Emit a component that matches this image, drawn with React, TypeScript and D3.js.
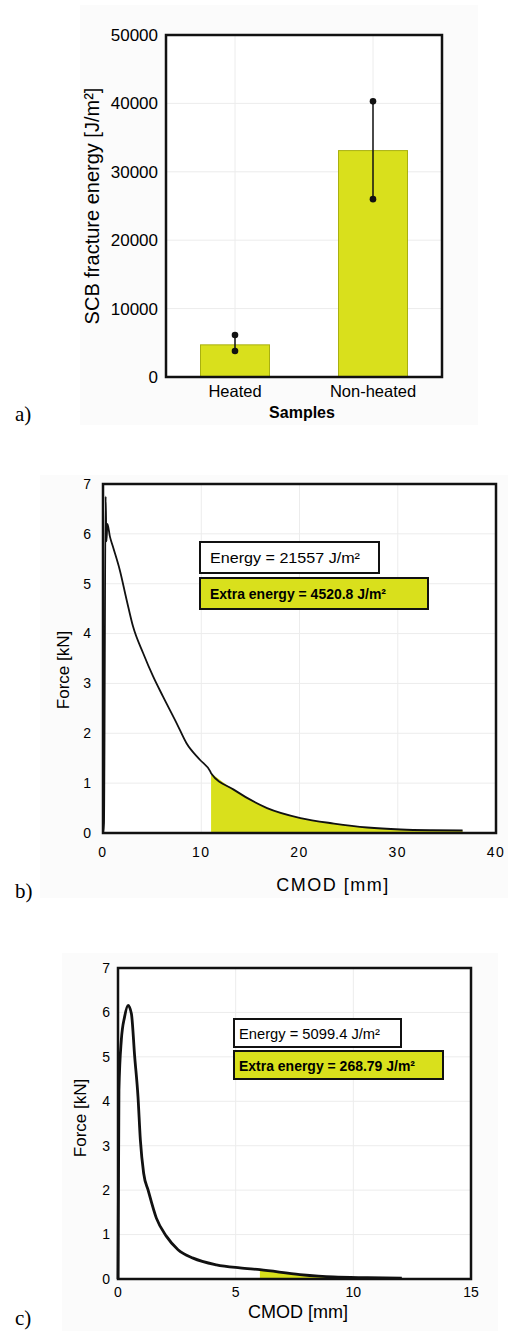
import React from 'react';
import * as d3 from 'd3';

// panel a: SCB fracture energy
const samples = ['Heated', 'Non-heated'];
const energyMean = [4700, 33100];
const energyHigh = [6150, 40300];
const energyLow = [3800, 26000];
const energyTicks = [0, 10000, 20000, 30000, 40000, 50000];

// panel b: heated sample, force vs CMOD
const cmodB = [0, 0.1, 0.27, 0.35, 0.45, 0.7, 1.0, 1.7, 2.4, 3.06, 4.08, 5.1, 6.1, 7.5, 8.5, 9.86, 10.9, 11.0, 13.3, 16.7, 20.1, 23.5, 26.9, 30.3, 33.5, 36.6];
const forceB = [0, 0.2, 6.75, 5.85, 6.2, 5.95, 5.75, 5.28, 4.68, 4.14, 3.61, 3.14, 2.74, 2.2, 1.8, 1.47, 1.24, 1.2, 0.87, 0.5, 0.3, 0.19, 0.11, 0.07, 0.055, 0.05];
const extraStartB = 11.0;
const xTicksB = [0, 10, 20, 30, 40];
const yTicks = [0, 1, 2, 3, 4, 5, 6, 7];

// panel c: non-heated sample
const cmodC = [0, 0.04, 0.14, 0.28, 0.43, 0.57, 0.71, 0.85, 0.95, 1.09, 1.28, 1.63, 2.06, 2.55, 3.19, 4.18, 5.18, 6.03, 7.73, 9.15, 10.6, 12.06];
const forceC = [0, 4.25, 5.37, 5.9, 6.16, 5.97, 5.0, 4.1, 3.13, 2.38, 2.0, 1.37, 0.96, 0.66, 0.47, 0.32, 0.25, 0.21, 0.1, 0.045, 0.03, 0.02];
const extraStartC = 6.0;
const xTicksC = [0, 5, 10, 15];

const YELLOW = '#d9e01c';
const SANS = 'Arial, "Liberation Sans", Helvetica, sans-serif';
const SERIF = '"Times New Roman", "Liberation Serif", serif';

function CurvePanel(props: any) {
  const { xs, ys, xTicks, xMax, extraStart, box, top, left, right, bottom, lineW, labels } = props;
  const x = d3.scaleLinear().domain([0, xMax]).range([left, right]);
  const y = d3.scaleLinear().domain([0, 7]).range([bottom, top]);
  const pts = xs.map((v: number, i: number) => [v, ys[i]] as [number, number]);
  const line = d3.line<[number, number]>().x(d => x(d[0])).y(d => y(d[1])).curve(d3.curveMonotoneX);
  // shaded extra energy part
  const tail = pts.filter((p: [number, number]) => p[0] >= extraStart);
  const area = d3.area<[number, number]>().x(d => x(d[0])).y0(y(0)).y1(d => y(d[1])).curve(d3.curveMonotoneX);

  return (
    <g>
      <rect x={labels.bgX} y={labels.bgY} width={labels.bgW} height={labels.bgH} fill="#fbfbfb" />
      <rect x={left} y={top} width={right - left} height={bottom - top} fill="#fff" />
      {xTicks.slice(1, -1).map((t: number) => (
        <line key={'gx' + t} x1={x(t)} x2={x(t)} y1={top} y2={bottom} stroke="#ececec" />
      ))}
      {yTicks.slice(1, -1).map(t => (
        <line key={'gy' + t} x1={left} x2={right} y1={y(t)} y2={y(t)} stroke="#ececec" />
      ))}
      <path d={area(tail) || ''} fill={YELLOW} />
      <path d={line(pts) || ''} fill="none" stroke="#111" strokeWidth={lineW} strokeLinejoin="round" />
      <rect x={left} y={top} width={right - left} height={bottom - top} fill="none" stroke="#111" strokeWidth={2.5} />
      {yTicks.map(t => (
        <text key={'ty' + t} x={left - labels.yTickGap} y={y(t)} dy="0.35em" textAnchor="end" fontSize={14} fontFamily={SANS}>{t}</text>
      ))}
      {xTicks.map((t: number) => (
        <text key={'tx' + t} x={x(t)} y={labels.xTickY} dy="0.35em" textAnchor="middle" fontSize={14} fontFamily={SANS} letterSpacing={labels.spacing}>{t}</text>
      ))}
      <text x={labels.xTitleX} y={labels.xTitleY} textAnchor="middle" fontSize={18} fontFamily={SANS} letterSpacing={labels.spacing}>{labels.xTitle}</text>
      <text transform={`translate(${labels.yTitleX},${labels.yTitleY}) rotate(-90)`} textAnchor="middle" fontSize={17} fontFamily={SANS}>Force [kN]</text>
      <rect x={box.x} y={box.y1} width={box.w1} height={box.h} fill="#fff" stroke="#111" strokeWidth={2} />
      <text x={box.x + box.pad} y={box.y1 + box.h / 2} dy="0.38em" fontSize={15} fontWeight={box.energyWeight} fontFamily={SANS} textLength={box.energyLen} lengthAdjust="spacingAndGlyphs">
        {box.energy}
      </text>
      <rect x={box.x} y={box.y2} width={box.w2} height={box.h} fill={YELLOW} stroke="#111" strokeWidth={2} />
      <text x={box.x + box.pad} y={box.y2 + box.h / 2} dy="0.38em" fontSize={15} fontWeight="bold" fontFamily={SANS} textLength={box.extraLen} lengthAdjust="spacingAndGlyphs">
        {box.extra}
      </text>
      <text x={15} y={labels.tagY} fontSize={21} fontFamily={SERIF}>{labels.tag}</text>
    </g>
  );
}

function BarPanel() {
  const left = 166, right = 442, top = 35, bottom = 377;
  const x = d3.scaleBand().domain(samples).range([left, right]).paddingInner(0.5).paddingOuter(0.25);
  const y = d3.scaleLinear().domain([0, 50000]).range([bottom, top]);
  return (
    <g>
      <rect x={80} y={5} width={398} height={420} fill="#fbfbfb" />
      <rect x={left} y={top} width={right - left} height={bottom - top} fill="#fff" />
      {energyTicks.slice(1, -1).map(t => (
        <line key={'g' + t} x1={left} x2={right} y1={y(t)} y2={y(t)} stroke="#ececec" />
      ))}
      {samples.map(s => (
        <line key={'gv' + s} x1={x(s)! + x.bandwidth() / 2} x2={x(s)! + x.bandwidth() / 2} y1={top} y2={bottom} stroke="#ececec" />
      ))}
      {samples.map((s, i) => (
        <rect key={s} x={x(s)} y={y(energyMean[i])} width={x.bandwidth()} height={bottom - y(energyMean[i])} fill={YELLOW} stroke="#a9b010" strokeWidth={1} />
      ))}
      {samples.map((s, i) => {
        const cx = x(s)! + x.bandwidth() / 2;
        return (
          <g key={'e' + s}>
            <line x1={cx} x2={cx} y1={y(energyHigh[i])} y2={y(energyLow[i])} stroke="#111" strokeWidth={1.5} />
            <circle cx={cx} cy={y(energyHigh[i])} r={3.3} fill="#111" />
            <circle cx={cx} cy={y(energyLow[i])} r={3.3} fill="#111" />
          </g>
        );
      })}
      <rect x={left} y={top} width={right - left} height={bottom - top} fill="none" stroke="#111" strokeWidth={2.5} />
      {energyTicks.map(t => (
        <text key={'t' + t} x={left - 8} y={y(t)} dy="0.35em" textAnchor="end" fontSize={17} fontFamily={SANS}>{t}</text>
      ))}
      {samples.map(s => (
        <text key={'l' + s} x={x(s)! + x.bandwidth() / 2} y={397} textAnchor="middle" fontSize={16.5} fontFamily={SANS}>{s}</text>
      ))}
      <text x={302} y={418} textAnchor="middle" fontSize={16} fontWeight="bold" fontFamily={SANS}>Samples</text>
      <text transform="translate(99,206) rotate(-90)" textAnchor="middle" fontSize={20} fontFamily={SANS}>
        SCB fracture energy [J/m²]
      </text>
      <text x={15} y={421} fontSize={21} fontFamily={SERIF}>a)</text>
    </g>
  );
}

export default function App() {
  return (
    <svg width={508} height={1331} style={{ position: 'absolute', left: 0, top: 0, background: '#fff' }}>
      <BarPanel />
      <CurvePanel
        xs={cmodB} ys={forceB} xTicks={xTicksB} xMax={40} extraStart={extraStartB}
        top={484} bottom={833} left={103} right={496} lineW={1.8}
        box={{ x: 200, y1: 542, y2: 578, w1: 179, w2: 228, h: 31, pad: 10, energy: 'Energy = 21557  J/m²', energyWeight: 'normal', energyLen: 150, extra: 'Extra energy = 4520.8 J/m²', extraLen: 176 }}
        labels={{ bgX: 40, bgY: 475, bgW: 468, bgH: 423, yTickGap: 12, xTickY: 852, spacing: 1.5, xTitle: 'CMOD [mm]', xTitleX: 333, xTitleY: 891, yTitleX: 69, yTitleY: 670, tag: 'b)', tagY: 898 }}
      />
      <CurvePanel
        xs={cmodC} ys={forceC} xTicks={xTicksC} xMax={15} extraStart={extraStartC}
        top={968} bottom={1279} left={118} right={471} lineW={2.8}
        box={{ x: 234, y1: 1019, y2: 1051, w1: 167, w2: 209, h: 28, pad: 5, energy: 'Energy = 5099.4 J/m²', energyWeight: 'normal', energyLen: 141, extra: 'Extra energy = 268.79 J/m²', extraLen: 176 }}
        labels={{ bgX: 62, bgY: 953, bgW: 436, bgH: 378, yTickGap: 8, xTickY: 1292, spacing: 0, xTitle: 'CMOD  [mm]', xTitleX: 298, xTitleY: 1318, yTitleX: 86, yTitleY: 1118, tag: 'c)', tagY: 1325 }}
      />
    </svg>
  );
}
